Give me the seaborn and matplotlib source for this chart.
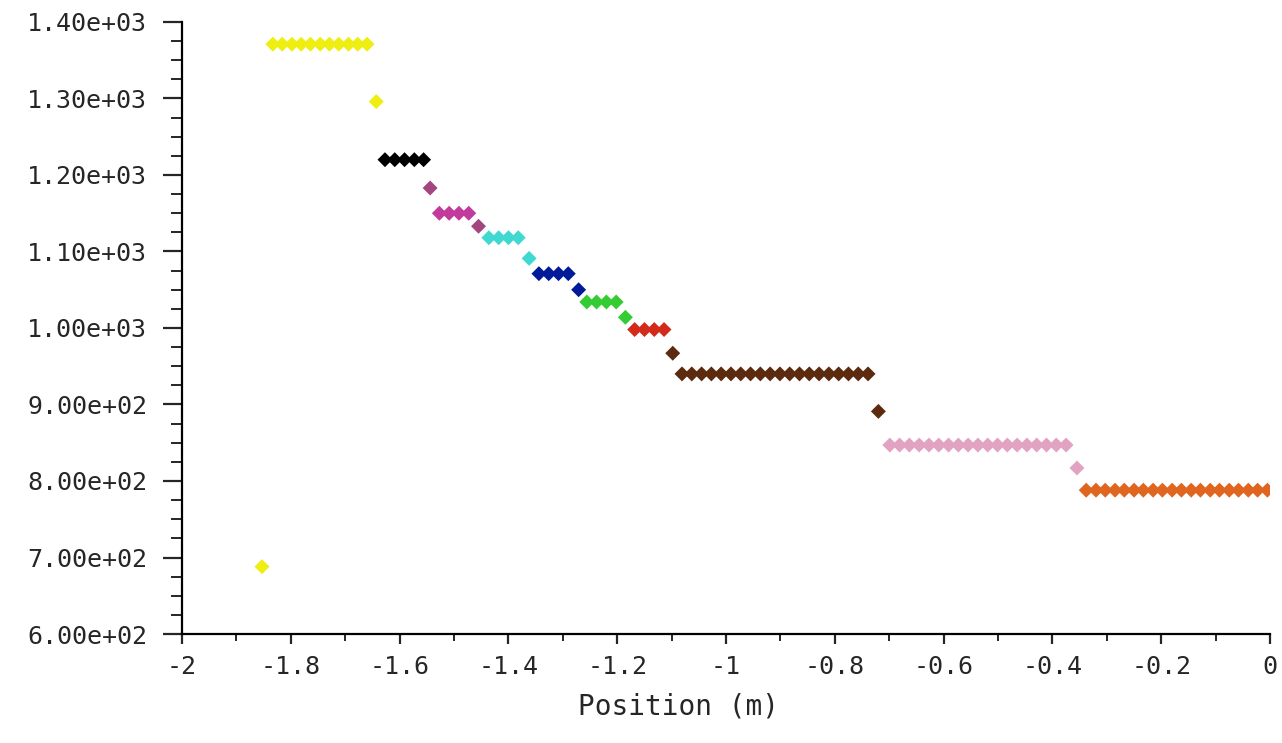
import pandas as pd
import matplotlib
matplotlib.use("Agg")
import matplotlib.pyplot as plt
import matplotlib.ticker as mticker
import seaborn as sns

# values, one list per coloured layer
yellow_x = [-1.853, -1.833, -1.816, -1.798, -1.781, -1.764, -1.746, -1.729,
            -1.712, -1.694, -1.677, -1.660, -1.643]
yellow_y = [688, 1371, 1371, 1371, 1371, 1371, 1371, 1371, 1371, 1371, 1371, 1371, 1296]

black_x = [-1.627, -1.609, -1.591, -1.573, -1.556]
black_y = [1220, 1220, 1220, 1220, 1220]

purple_x = [-1.544, -1.455]
purple_y = [1183, 1133]

magenta_x = [-1.527, -1.509, -1.491, -1.473]
magenta_y = [1150, 1150, 1150, 1150]

cyan_x = [-1.436, -1.418, -1.400, -1.382, -1.362]
cyan_y = [1118, 1118, 1118, 1118, 1091]

blue_x = [-1.344, -1.326, -1.308, -1.290, -1.271]
blue_y = [1071, 1071, 1071, 1071, 1050]

green_x = [-1.256, -1.238, -1.220, -1.202, -1.185]
green_y = [1034, 1034, 1034, 1034, 1014]

red_x = [-1.168, -1.150, -1.132, -1.114]
red_y = [998, 998, 998, 998]

brown_x = [-1.098, -1.081, -1.063, -1.045, -1.027, -1.009, -0.991, -0.973, -0.955,
           -0.937, -0.919, -0.901, -0.883, -0.865, -0.847, -0.829, -0.811, -0.793,
           -0.775, -0.757, -0.739, -0.720]
brown_y = [967] + [940] * 20 + [891]

pink_x = [-0.699, -0.681, -0.663, -0.645, -0.627, -0.609, -0.591, -0.573, -0.555,
          -0.537, -0.519, -0.501, -0.483, -0.465, -0.447, -0.429, -0.411, -0.393,
          -0.375, -0.355]
pink_y = [847] * 19 + [817]

orange_x = [-0.338, -0.320, -0.303, -0.285, -0.268, -0.250, -0.233, -0.215, -0.198,
            -0.180, -0.163, -0.145, -0.128, -0.110, -0.093, -0.075, -0.058, -0.040,
            -0.023, -0.005]
orange_y = [788] * 20

layers = {
    "yellow": (yellow_x, yellow_y, "#eeee10"),
    "black": (black_x, black_y, "#000000"),
    "purple": (purple_x, purple_y, "#a3457f"),
    "magenta": (magenta_x, magenta_y, "#c23a9c"),
    "cyan": (cyan_x, cyan_y, "#3fd9d2"),
    "blue": (blue_x, blue_y, "#001a99"),
    "green": (green_x, green_y, "#33cc33"),
    "red": (red_x, red_y, "#d42a1a"),
    "brown": (brown_x, brown_y, "#5c2a0e"),
    "pink": (pink_x, pink_y, "#e2a3c3"),
    "orange": (orange_x, orange_y, "#e0651e"),
}

rows = []
for name, (xs, ys, _) in layers.items():
    for x, y in zip(xs, ys):
        rows.append({"x": x, "y": y, "layer": name})
df = pd.DataFrame(rows)
palette = {name: c for name, (_, _, c) in layers.items()}

sns.set_style("ticks")
plt.rcParams["font.family"] = ["DejaVu Sans Mono", "DejaVu Sans"]

fig = plt.figure(figsize=(12.82, 7.43), dpi=100)
ax = fig.add_axes([0.142, 0.1467, 0.8487, 0.8237])

sns.scatterplot(data=df, x="x", y="y", hue="layer", palette=palette,
                marker="D", s=58, linewidth=0, legend=False, ax=ax)

ax.set_xlim(-2, 0)
ax.set_ylim(600, 1400)
ax.xaxis.set_major_locator(mticker.MultipleLocator(0.2))
ax.xaxis.set_minor_locator(mticker.MultipleLocator(0.1))
ax.yaxis.set_major_locator(mticker.MultipleLocator(100))
ax.yaxis.set_minor_locator(mticker.MultipleLocator(25))
ax.xaxis.set_major_formatter(mticker.FuncFormatter(lambda v, p: "%g" % round(v, 2)))
ax.yaxis.set_major_formatter(mticker.FuncFormatter(lambda v, p: "{:.2e}".format(v)))

for side in ["top", "right"]:
    ax.spines[side].set_visible(False)
for side in ["left", "bottom"]:
    ax.spines[side].set_linewidth(1.6)
    ax.spines[side].set_color("black")

ax.tick_params(axis="y", which="major", length=14, width=1.6, pad=11, labelsize=18)
ax.tick_params(axis="y", which="minor", length=8, width=1.4)
ax.tick_params(axis="x", which="major", length=7, width=1.6, pad=8, labelsize=18)
ax.tick_params(axis="x", which="minor", length=5, width=1.4)

ax.set_ylabel("")
ax.set_xlabel("Position (m)", fontsize=20, labelpad=6)
ax.xaxis.set_label_coords(0.456, -0.095)

fig.savefig("out.png", dpi=100)
